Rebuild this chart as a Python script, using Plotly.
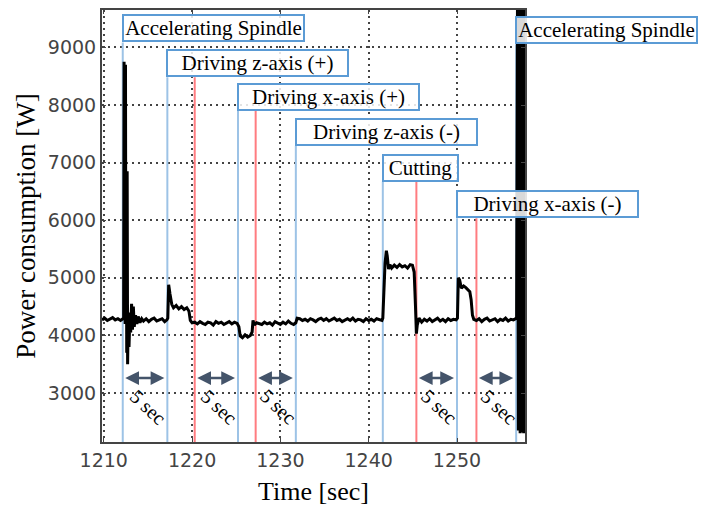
import plotly.graph_objects as go

# ---------------- data ----------------
time_s = [
    1209.8, 1210.1, 1210.4, 1210.7, 1211.0, 1211.3, 1211.6, 1211.9, 1212.15,
    1212.25, 1212.3, 1212.34, 1212.38, 1212.42, 1212.46, 1212.5, 1212.55, 1212.6, 1212.65, 1212.7,
    1212.78, 1212.86, 1212.95,
    1213.05, 1213.15, 1213.25, 1213.35, 1213.45, 1213.6, 1213.75, 1213.9, 1214.1, 1214.3,
    1214.5, 1214.8, 1215.1, 1215.4, 1215.7, 1216.0, 1216.3, 1216.6, 1216.9, 1217.15,
    1217.25, 1217.35, 1217.5, 1217.7, 1217.9, 1218.2, 1218.5, 1218.8, 1219.1, 1219.4, 1219.65, 1219.8, 1220.0,
    1220.3, 1220.6, 1220.9, 1221.2, 1221.5, 1221.8, 1222.1, 1222.4, 1222.7, 1223.0, 1223.3, 1223.6,
    1223.9, 1224.2, 1224.5, 1224.8, 1225.1,
    1225.3, 1225.45, 1225.7, 1226.0, 1226.3, 1226.6, 1226.8, 1226.9, 1227.05, 1227.3,
    1227.6, 1227.9, 1228.2, 1228.5, 1228.8, 1229.1, 1229.4, 1229.7, 1230.0, 1230.3, 1230.6, 1230.9,
    1231.2, 1231.5, 1231.75,
    1231.9, 1232.2, 1232.5, 1232.8, 1233.1, 1233.4, 1233.7, 1234.0, 1234.3, 1234.6, 1234.9, 1235.2,
    1235.5, 1235.8, 1236.1, 1236.4, 1236.7, 1237.0, 1237.3, 1237.6, 1237.9, 1238.2, 1238.5, 1238.8,
    1239.1, 1239.4, 1239.7, 1240.0, 1240.3, 1240.6, 1240.9, 1241.2, 1241.5,
    1241.6, 1241.7, 1241.85, 1242.0, 1242.1, 1242.25, 1242.4, 1242.6, 1242.9, 1243.2, 1243.5, 1243.8,
    1244.1, 1244.4, 1244.7, 1244.95, 1245.15, 1245.3, 1245.4, 1245.5, 1245.7,
    1246.0, 1246.3, 1246.6, 1246.9, 1247.2, 1247.5, 1247.8, 1248.1, 1248.4, 1248.7, 1249.0, 1249.3,
    1249.6, 1249.9,
    1250.05, 1250.15, 1250.3, 1250.5, 1250.75, 1251.0, 1251.25, 1251.45, 1251.6, 1251.75, 1251.9,
    1252.2, 1252.5, 1252.8, 1253.1, 1253.4, 1253.7, 1254.0, 1254.3, 1254.6, 1254.9, 1255.2, 1255.5,
    1255.8, 1256.1, 1256.4, 1256.65,
    1256.75, 1256.85, 1256.95, 1257.05, 1257.15, 1257.25, 1257.35, 1257.45, 1257.55, 1257.65,
]

power_w = [
    4270, 4300, 4260, 4290, 4310, 4270, 4290, 4260, 4280,
    4300, 8750, 4300, 8750, 4200, 8700, 4300, 6850, 3700, 6850, 3500,
    4400, 3800, 4300,
    4050, 4550, 4100, 4500, 4150, 4350, 4200, 4330, 4220, 4290,
    4250, 4290, 4240, 4280, 4300, 4250, 4270, 4290, 4240, 4270,
    4300, 4880, 4720, 4540, 4480, 4520, 4460, 4500, 4450, 4480, 4420, 4260, 4220,
    4230, 4200, 4240, 4210, 4190, 4230, 4220, 4180, 4240, 4210, 4230, 4190,
    4220, 4240, 4200, 4230, 4210,
    4150, 3990, 3960, 4010, 3970, 4000, 4060, 4260, 4180, 4220,
    4210, 4190, 4230, 4200, 4220, 4180, 4240, 4210, 4190, 4230, 4200, 4250,
    4210, 4190, 4220,
    4300, 4290, 4260, 4280, 4250, 4290, 4270, 4240, 4280, 4300, 4260, 4290,
    4250, 4270, 4300, 4260, 4280, 4240, 4270, 4290, 4260, 4300, 4250, 4280,
    4270, 4240, 4290, 4260, 4280, 4250, 4290, 4270, 4260,
    4300, 4800, 5250, 5470, 5380, 5150, 5230, 5170, 5220, 5180, 5230, 5190,
    5210, 5170, 5230, 5220, 5100, 4500, 4030, 4180, 4300,
    4230, 4280, 4250, 4290, 4240, 4270, 4300, 4250, 4280, 4240, 4290, 4260,
    4280, 4270,
    4300, 5000, 4960, 4820, 4860, 4830, 4800, 4760, 4620, 4350, 4280,
    4260, 4290, 4240, 4280, 4300, 4250, 4270, 4290, 4240, 4280, 4260, 4300,
    4250, 4280, 4270, 4290,
    4300, 9900, 2350, 9900, 2300, 9900, 2320, 9900, 2300, 9900,
]

event_labels = ["Accelerating Spindle", "Driving z-axis (+)", "Driving x-axis (+)",
                "Driving z-axis (-)", "Cutting", "Driving x-axis (-)", "Accelerating Spindle"]
event_start = [1212.15, 1217.2, 1225.2, 1231.75, 1241.6, 1250.0, 1256.7]   # blue lines
event_end = [None, 1220.3, 1227.2, None, 1245.4, 1252.2, None]              # red lines

gap_start = [1212.15, 1220.3, 1227.2, 1245.4, 1252.2]
gap_end = [1217.2, 1225.2, 1231.75, 1250.0, 1256.7]
gap_label = "5 sec"

# ---------------- layout helpers (positions / styles) ----------------
Y_MIN, Y_MAX = 2150, 9650
box_bottom = [9086, 8483, 7897, 7293, 6672, 6034, 9052]
box_width = [179, 179, 179, 179, 73, 179, 179]
arrow_y = 3260
gap_text_y = 2760

BLUE_LINE = "#9dc3e6"
BOX_BLUE = "#5b9bd5"
RED_LINE = "#ff7c80"
ARROW = "#44546a"
SERIF = "Liberation Serif, Times New Roman, serif"

fig = go.Figure()
fig.add_trace(go.Scatter(x=time_s, y=power_w, mode="lines",
                         line=dict(color="black", width=3), hoverinfo="skip"))

shapes = []
annotations = []
for lab, t0, t1, yb, w in zip(event_labels, event_start, event_end, box_bottom, box_width):
    shapes.append(dict(type="line", xref="x", yref="y", x0=t0, x1=t0, y0=Y_MIN, y1=yb,
                       line=dict(color=BLUE_LINE, width=2), layer="between"))
    if t1 is not None:
        shapes.append(dict(type="line", xref="x", yref="y", x0=t1, x1=t1, y0=Y_MIN, y1=yb,
                           line=dict(color=RED_LINE, width=2), layer="between"))
    annotations.append(dict(x=t0, y=yb, xref="x", yref="y", xanchor="left", yanchor="bottom",
                            xshift=-1, text=lab, showarrow=False, width=w, align="center",
                            font=dict(family=SERIF, size=21, color="black"),
                            bgcolor="rgba(255,255,255,0.85)", bordercolor=BOX_BLUE,
                            borderwidth=2, borderpad=0))

for s, e in zip(gap_start, gap_end):
    annotations.append(dict(x=e, y=arrow_y, ax=s, ay=arrow_y, xref="x", yref="y",
                            axref="x", ayref="y", text="", showarrow=True,
                            arrowside="end+start", arrowhead=2, startarrowhead=2,
                            arrowsize=1.1, startarrowsize=1.1, arrowwidth=2.5,
                            arrowcolor=ARROW, standoff=3, startstandoff=1))
    annotations.append(dict(x=(s + e) / 2 + 0.35, y=gap_text_y, xref="x", yref="y",
                            text=gap_label, showarrow=False, textangle=43,
                            font=dict(family=SERIF, size=20, color="black")))

fig.update_layout(
    width=701, height=514,
    margin=dict(l=102, r=176, t=8, b=72),
    plot_bgcolor="white", paper_bgcolor="white",
    showlegend=False,
    shapes=shapes, annotations=annotations,
    xaxis=dict(range=[1209.8, 1257.7], tick0=1210, dtick=10,
               showgrid=True, gridcolor="#444", gridwidth=1.5, griddash="2px,4px",
               zeroline=False, showline=True, mirror="ticks", linecolor="#444", linewidth=2,
               ticks="inside", ticklen=4, tickcolor="#444",
               tickfont=dict(family="DejaVu Sans", size=19, color="#444"),
               title=dict(text="Time [sec]", font=dict(family=SERIF, size=26, color="black"),
                          standoff=12)),
    yaxis=dict(range=[Y_MIN, Y_MAX], tick0=3000, dtick=1000,
               showgrid=True, gridcolor="#444", gridwidth=1.5, griddash="2px,4px",
               zeroline=False, showline=True, mirror="ticks", linecolor="#444", linewidth=2,
               ticks="inside", ticklen=4, tickcolor="#444",
               tickfont=dict(family="DejaVu Sans", size=19, color="#444"),
               title=dict(text="Power consumption [W]",
                          font=dict(family=SERIF, size=27, color="black"), standoff=4)),
)

fig.write_html("out.html")
